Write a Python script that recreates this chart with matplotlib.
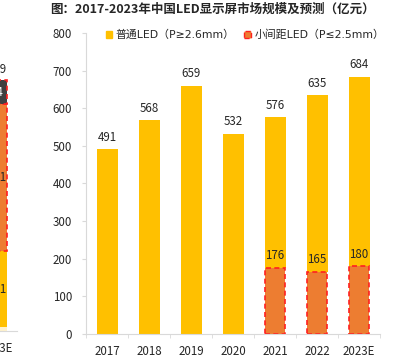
import matplotlib
matplotlib.use('Agg')
import matplotlib.pyplot as plt
from matplotlib.patches import Patch

plt.rcParams['font.family'] = ['Noto Sans CJK SC', 'DejaVu Sans']

years = ['2017', '2018', '2019', '2020', '2021', '2022', '2023E']
totals = [491, 568, 659, 532, 576, 635, 684]
small_pitch = [0, 0, 0, 0, 176, 165, 180]
normal = [t - s for t, s in zip(totals, small_pitch)]

# neighbouring chart, only its right edge shows
left_year = ['2023E']
left_base = [11]
left_yellow = [201]
left_orange = [391]
left_dark = [64]
left_top = ['719']

yellow = '#FFC000'
orange = '#ED7D31'
red = '#FF2020'
grey = '#D9D9D9'
txt = '#262626'

fig = plt.figure(figsize=(3.95, 3.63), dpi=100)
W, H = 395, 363

# main chart
ax = fig.add_axes([86 / W, 29 / H, 294 / W, 301 / H])
x = list(range(len(years)))
ax.bar(x, normal, width=0.5, color=yellow, bottom=small_pitch)
for i, s in enumerate(small_pitch):
    if s > 0:
        ax.bar(i, s, width=0.48, color=orange, edgecolor=red,
               linestyle=(0, (3, 2)), linewidth=1.2)
for i, t in enumerate(totals):
    ax.annotate(str(t), (i, t), xytext=(0, 4), textcoords='offset points',
                ha='center', va='bottom', fontsize=8.3, color=txt)
for i, s in enumerate(small_pitch):
    if s > 0:
        ax.annotate(str(s), (i, s), xytext=(0, 4), textcoords='offset points',
                    ha='center', va='bottom', fontsize=8.3, color=txt)

ax.set_xlim(-0.5, len(years) - 0.5)
ax.set_ylim(0, 800)
ax.set_yticks(range(0, 801, 100))
ax.set_xticks(x)
ax.set_xticklabels(years)
ax.set_xticks([i - 0.5 for i in range(len(years) + 1)], minor=True)
ax.tick_params(axis='x', which='major', length=0, pad=8, labelsize=8.3, labelcolor=txt)
ax.tick_params(axis='x', which='minor', length=3, color=grey)
ax.tick_params(axis='y', length=3, color=grey, pad=7, labelsize=8.3, labelcolor=txt)
for side in ['top', 'right']:
    ax.spines[side].set_visible(False)
for side in ['left', 'bottom']:
    ax.spines[side].set_color(grey)

handles = [Patch(facecolor=yellow, edgecolor=yellow),
           Patch(facecolor=orange, edgecolor=red, linestyle='--')]
fig.legend(handles, ['普通LED（P≥2.6mm）', '小间距LED（P≤2.5mm）'],
           loc='center', bbox_to_anchor=(245 / W, 1 - 35 / H), ncol=2, frameon=False,
           prop={'family': ['DejaVu Sans', 'Noto Sans CJK SC'], 'size': 7.8},
           handlelength=0.6, handleheight=0.6, handletextpad=0.3,
           columnspacing=0.9, labelcolor=txt)

fig.text(212 / W, 1 - 9 / H, '图：2017-2023年中国LED显示屏市场规模及预测（亿元）',
         ha='center', va='center', fontsize=9, fontweight='bold', color=txt)

# partial chart on the left edge
ax2 = fig.add_axes([-55 / W, 32 / H, 72 / W, 301 / H])
ax2.bar(0, left_base, width=0.48, color='#FFF2CC')
ax2.bar(0, left_yellow, width=0.48, bottom=left_base, color=yellow)
b1 = [a + b for a, b in zip(left_base, left_yellow)]
ax2.bar(0, left_orange, width=0.48, bottom=b1, color=orange, edgecolor=red,
        linestyle=(0, (3, 2)), linewidth=1.2)
b2 = [a + b for a, b in zip(b1, left_orange)]
ax2.bar(0, left_dark, width=0.48, bottom=b2, color='#404040', edgecolor=red,
        linestyle=(0, (3, 2)), linewidth=1.2)
ax2.text(0, left_base[0] + left_yellow[0] / 2, str(left_yellow[0]), ha='center', va='center',
         fontsize=8.3, color=txt)
ax2.text(0, b1[0] + left_orange[0] / 2, str(left_orange[0]), ha='center', va='center',
         fontsize=8.3, color=txt)
ax2.text(0, b2[0] + left_dark[0] / 2, str(left_dark[0]), ha='center', va='center',
         fontsize=8.3, color='white')
ax2.annotate(left_top[0], (0, b2[0] + left_dark[0]), xytext=(0, 3), textcoords='offset points',
             ha='center', va='bottom', fontsize=8.3, color=txt)
ax2.set_xlim(-52 / 42, 20 / 42)
ax2.set_ylim(0, 800)
ax2.set_xticks([0])
ax2.set_xticklabels(left_year)
ax2.tick_params(axis='x', length=0, pad=8, labelsize=8.3, labelcolor=txt)
ax2.set_yticks([])
for side in ['top', 'right', 'left']:
    ax2.spines[side].set_visible(False)
ax2.spines['bottom'].set_color(grey)

fig.savefig('out.png', dpi=100)
